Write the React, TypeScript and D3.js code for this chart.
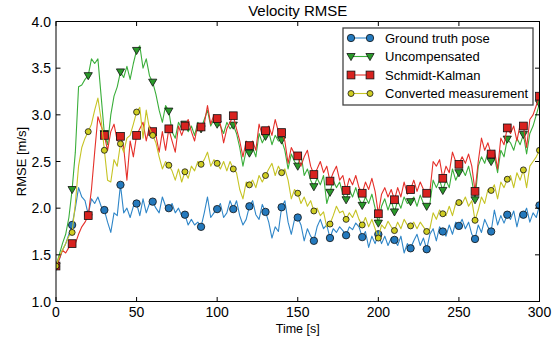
import React from 'react';
import * as d3 from 'd3';

// sampled every 2 s from 0 to 300 s; markers every 10 s
const sampleStep = 2;
const markerEvery = 5;

const groundTruth = [
  1.38,
  1.45, 1.55, 1.62, 1.72, 1.82,
  2.0, 2.22, 2.12, 2.08, 1.93,
  2.1, 2.05, 2.12, 2.02, 1.98,
  1.85, 1.74, 1.95, 1.92, 2.25,
  1.95, 2.0, 1.9, 2.02, 2.05,
  1.92, 2.1, 1.95, 2.05, 2.07,
  2.0, 1.95, 2.12, 2.02, 2.0,
  2.05, 1.95, 2.0, 1.92, 1.93,
  1.82, 1.88, 1.82, 1.85, 1.8,
  1.95, 2.12, 1.9, 1.95, 1.99,
  2.05, 1.9, 1.95, 2.08, 1.99,
  2.08, 1.92, 1.82, 1.88, 2.02,
  2.08, 1.93, 1.88, 2.04, 1.96,
  1.85, 1.68, 1.8, 1.75, 2.01,
  2.08, 1.85, 1.72, 1.88, 1.9,
  1.82, 1.65, 1.78, 1.7, 1.65,
  1.8, 1.88, 1.78, 1.82, 1.68,
  1.78, 1.74, 1.8, 1.76, 1.71,
  1.8, 1.77, 1.84, 1.8, 1.69,
  1.75, 1.58, 1.7, 1.62, 1.72,
  1.62, 1.7, 1.6, 1.68, 1.66,
  1.6, 1.7, 1.52, 1.62, 1.57,
  1.65, 1.72, 1.6, 1.68, 1.56,
  1.72, 1.78, 1.65, 1.8, 1.75,
  1.7, 1.82, 1.72, 1.85, 1.81,
  1.88, 1.78, 1.85, 1.72, 1.67,
  1.82, 1.74, 1.88, 1.8, 1.75,
  1.98, 1.82, 1.92, 1.84, 1.93,
  1.88, 1.97, 1.8, 1.95, 1.93,
  2.0, 1.85, 1.95, 1.9, 2.03,
];

const uncompensated = [
  1.38,
  1.5, 1.62, 1.72, 1.9, 2.2,
  2.6, 3.3, 3.32, 3.38, 3.42,
  3.6, 3.55, 3.6, 3.2, 2.8,
  2.68, 3.0, 3.2, 3.3, 3.46,
  3.4, 3.52, 3.38, 3.55, 3.69,
  3.74, 3.5, 3.6, 3.42, 3.35,
  3.22, 3.05, 2.92, 3.1, 3.04,
  2.82, 2.75, 2.92, 2.85, 2.9,
  2.82, 2.88, 2.78, 2.92, 2.85,
  2.95, 3.05, 2.88, 2.95, 2.9,
  2.88, 2.8, 2.92, 2.85, 2.89,
  2.8, 2.65, 2.45, 2.62, 2.59,
  2.65, 2.55, 2.8, 2.7, 2.77,
  2.82, 2.68, 2.78, 2.72, 2.73,
  2.62, 2.42, 2.58, 2.5, 2.45,
  2.58, 2.35, 2.42, 2.3, 2.23,
  2.32, 2.25, 2.35, 2.05, 2.17,
  2.3, 2.22, 2.28, 2.15, 2.09,
  2.2, 2.12, 2.22, 2.1, 2.03,
  2.12, 2.05, 2.15, 2.0, 1.84,
  2.02, 2.1, 1.98, 2.08, 1.96,
  2.08, 2.0, 2.12, 2.05, 2.07,
  2.12, 2.02, 2.14, 2.05, 2.02,
  2.05, 2.3, 2.22, 2.3, 2.19,
  2.3, 2.22, 2.42, 2.3, 2.38,
  2.42, 2.35, 2.45, 2.3, 2.09,
  2.45, 2.55, 2.48, 2.6, 2.5,
  2.55, 2.38, 2.62, 2.55, 2.74,
  2.7, 2.62, 2.75, 2.68, 2.79,
  2.58, 2.8, 2.88, 3.0, 3.12,
];

const schmidtKalman = [
  1.38,
  1.45, 1.55, 1.52, 1.58, 1.62,
  1.62, 1.72, 1.8, 1.85, 1.92,
  2.2, 2.6, 2.98, 2.88, 2.78,
  2.62, 2.82, 2.9, 2.72, 2.77,
  2.65, 2.3, 2.72, 2.55, 2.78,
  2.85, 2.92, 2.72, 2.88, 2.82,
  2.78, 2.6, 2.82, 2.62, 2.85,
  2.72, 2.6, 2.88, 2.78, 2.88,
  2.95, 2.82, 2.72, 2.9, 2.87,
  2.9, 3.1, 2.9, 3.0, 2.96,
  2.9, 2.7, 2.85, 2.92, 2.99,
  2.85, 2.72, 2.55, 2.72, 2.67,
  2.72, 2.62, 2.9, 2.78, 2.83,
  2.88, 2.78, 2.95, 2.82, 2.81,
  2.72, 2.48, 2.65, 2.58, 2.56,
  2.45, 2.55, 2.62, 2.45, 2.36,
  2.42, 2.5, 2.38, 2.45, 2.29,
  2.38, 2.45, 2.3, 2.35, 2.19,
  2.32, 2.25, 2.35, 2.22, 2.16,
  2.28, 2.2, 2.32, 2.18, 1.94,
  2.15, 2.22, 2.12, 2.2, 2.09,
  2.22, 2.12, 2.28, 2.15, 2.2,
  2.3, 2.18, 2.28, 2.2, 2.16,
  2.18, 2.5, 2.45, 2.52, 2.32,
  2.45, 2.38, 2.6, 2.5, 2.47,
  2.55, 2.48, 2.58, 2.45, 2.18,
  2.5, 2.75, 2.62, 2.7, 2.58,
  2.62, 2.42, 2.75, 2.68, 2.86,
  2.8, 2.88, 2.72, 2.9, 2.88,
  2.65, 2.95, 3.0, 3.1, 3.2,
];

const converted = [
  1.38,
  1.48, 1.55, 1.62, 1.7, 1.74,
  2.05, 2.45, 2.65, 2.75, 2.82,
  2.9, 3.05, 3.18, 2.95, 2.62,
  2.3, 2.28, 2.52, 2.45, 2.69,
  2.6, 2.75, 2.78, 2.9, 3.03,
  3.08, 2.75, 3.05, 2.85, 2.78,
  2.7, 2.55, 2.42, 2.5, 2.46,
  2.4, 2.3, 2.42, 2.28, 2.39,
  2.32, 2.45, 2.4, 2.5, 2.47,
  2.52, 2.6, 2.45, 2.52, 2.48,
  2.42, 2.5, 2.4, 2.5, 2.42,
  2.38, 2.2, 2.1, 2.28, 2.25,
  2.3, 2.22, 2.35, 2.28, 2.35,
  2.42, 2.48, 2.35, 2.45, 2.38,
  2.42, 2.3, 2.1, 2.2, 2.16,
  2.05, 2.12, 2.02, 2.08, 1.97,
  2.0, 1.92, 1.96, 1.8, 1.83,
  1.92, 2.02, 1.95, 1.97, 1.88,
  1.95, 1.9, 1.98, 1.88, 1.82,
  1.9, 1.8, 1.88, 1.78, 1.68,
  1.82, 1.78, 1.86, 1.8, 1.76,
  1.85, 1.78, 1.88, 1.82, 1.81,
  1.85, 1.78, 1.85, 1.8, 1.75,
  1.78, 1.95, 1.88, 1.98, 1.94,
  1.92, 2.02, 1.92, 2.05, 2.06,
  2.05, 2.12, 2.02, 2.08, 1.87,
  1.98, 2.12, 2.05, 2.2, 2.19,
  2.25, 2.1, 2.28, 2.22, 2.31,
  2.35, 2.22, 2.38, 2.3, 2.41,
  2.22, 2.45, 2.5, 2.55, 2.62,
];

const seriesNames = ['Ground truth pose', 'Uncompensated', 'Schmidt-Kalman', 'Converted measurement'];
const seriesValues = [groundTruth, uncompensated, schmidtKalman, converted];

const lineColors = ['#2f86c8', '#3aae3a', '#e5302a', '#c6c425'];
const fillColors = ['#2479bd', '#2a9a2a', '#d8221f', '#cfcd22'];
const markerKinds = ['circle', 'triangle', 'square', 'smallCircle'];

const W = 559, H = 341;
const left = 56, right = 539.5, top = 21.5, bottom = 301.5;
const font = '"Liberation Sans", Arial, sans-serif';

const Marker = ({ kind, x, y, fill }) => {
  const stroke = '#111';
  if (kind === 'circle') return <circle cx={x} cy={y} r={3.7} fill={fill} stroke={stroke} strokeWidth={0.8} />;
  if (kind === 'smallCircle') return <circle cx={x} cy={y} r={3.0} fill={fill} stroke={stroke} strokeWidth={0.8} />;
  if (kind === 'square') return <rect x={x - 3.9} y={y - 3.9} width={7.8} height={7.8} fill={fill} stroke={stroke} strokeWidth={0.8} />;
  const p = `${x - 4.1},${y - 3} ${x + 4.1},${y - 3} ${x},${y + 4.1}`;
  return <polygon points={p} fill={fill} stroke={stroke} strokeWidth={0.8} />;
};

export default function App() {
  const x = d3.scaleLinear().domain([0, 300]).range([left, right]);
  const y = d3.scaleLinear().domain([1, 4]).range([bottom, top]);
  const line = d3.line<number>().x((d, i) => x(i * sampleStep)).y(d => y(d));
  const xTicks = x.ticks(6);
  const yTicks = y.ticks(6);
  const fmt = d3.format('.1f');
  const tickLen = 4.5;

  const lx0 = 351, lx1 = 370, ly0 = 38, ldy = 18.5;

  return (
    <svg width={W} height={H} style={{ position: 'absolute', left: 0, top: 0, background: '#fff' }} fontFamily={font}>
      <defs>
        <clipPath id="plotClip">
          <rect x={left} y={top} width={right - left} height={bottom - top} />
        </clipPath>
      </defs>

      <g clipPath="url(#plotClip)">
        {seriesValues.map((vals, s) => (
          <g key={seriesNames[s]}>
            <path d={line(vals) || ''} fill="none" stroke={lineColors[s]} strokeWidth={1.1} strokeLinejoin="round" />
            {vals.map((v, i) => (i % markerEvery === 0 ? (
              <Marker key={i} kind={markerKinds[s]} x={x(i * sampleStep)} y={y(v)} fill={fillColors[s]} />
            ) : null))}
          </g>
        ))}
      </g>

      {/* frame and inward ticks */}
      <rect x={left} y={top} width={right - left} height={bottom - top} fill="none" stroke="#000" strokeWidth={1} />
      {xTicks.map(t => (
        <g key={'x' + t}>
          <line x1={x(t)} x2={x(t)} y1={bottom} y2={bottom - tickLen} stroke="#000" />
          <line x1={x(t)} x2={x(t)} y1={top} y2={top + tickLen} stroke="#000" />
          <text x={x(t)} y={316.5} textAnchor="middle" fontSize={14}>{t}</text>
        </g>
      ))}
      {yTicks.map(t => (
        <g key={'y' + t}>
          <line x1={left} x2={left + tickLen} y1={y(t)} y2={y(t)} stroke="#000" />
          <line x1={right} x2={right - tickLen} y1={y(t)} y2={y(t)} stroke="#000" />
          <text x={51} y={y(t) + 5} textAnchor="end" fontSize={14}>{fmt(t)}</text>
        </g>
      ))}

      <text x={(left + right) / 2} y={16} textAnchor="middle" fontSize={15}>Velocity RMSE</text>
      <text x={(left + right) / 2} y={333} textAnchor="middle" fontSize={12.5}>Time [s]</text>
      <text transform={`translate(25.5,${(top + bottom) / 2}) rotate(-90)`} textAnchor="middle" fontSize={13}>RMSE [m/s]</text>

      {/* legend */}
      <rect x={343} y={28} width={190} height={77} fill="#fff" stroke="#444" strokeWidth={1.3} />
      {seriesNames.map((name, s) => {
        const ly = ly0 + s * ldy;
        return (
          <g key={'lg' + s}>
            <line x1={lx0} x2={lx1} y1={ly} y2={ly} stroke={lineColors[s]} strokeWidth={1.1} />
            <Marker kind={markerKinds[s]} x={lx0} y={ly} fill={fillColors[s]} />
            <Marker kind={markerKinds[s]} x={lx1} y={ly} fill={fillColors[s]} />
            <text x={385} y={ly + 4.5} fontSize={13}>{name}</text>
          </g>
        );
      })}
    </svg>
  );
}
